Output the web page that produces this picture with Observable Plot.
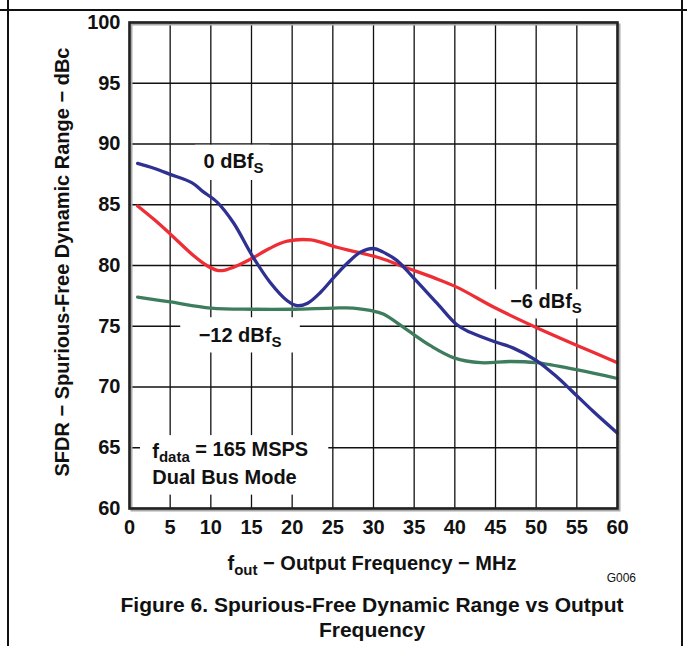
<!DOCTYPE html>
<html>
<head>
<meta charset="utf-8">
<script src="https://cdn.jsdelivr.net/npm/d3@7"></script>
<script src="https://cdn.jsdelivr.net/npm/@observablehq/plot@0.6"></script>
<style>
  html, body { margin: 0; padding: 0; background: #fff; }
  #page { position: relative; width: 687px; height: 646px; background: #fff; overflow: hidden;
          font-family: "Liberation Sans", Arial, Helvetica, sans-serif; color: #111; }
  .vline { position: absolute; top: 0; width: 2px; height: 646px; background: #111; z-index: 5; }
  .hline { position: absolute; left: 0; top: 9px; width: 687px; height: 2px; background: #111; z-index: 5; }
  #chart { position: absolute; left: 0; top: 0; z-index: 1; }
  .ttl { position: absolute; font-weight: bold; white-space: nowrap; z-index: 2; }
  #ytitle { left: 62px; top: 262px; font-size: 20px; transform: translate(-50%, -50%) rotate(-90deg); }
  #xtitle { left: 372px; top: 563px; font-size: 20px; transform: translate(-50%, -50%); }
  #xtitle sub { font-size: 15px; vertical-align: -5px; line-height: 0; }
  #gid { position: absolute; left: 636px; top: 578px; font-size: 12px; transform: translate(-100%, -50%); z-index: 2; }
  #caption { left: 372px; top: 592px; font-size: 21px; line-height: 25px; text-align: center; transform: translateX(-50%); }
</style>
</head>
<body>
<div id="page">
  <div id="chart"></div>
  <div id="ytitle" class="ttl">SFDR − Spurious-Free Dynamic Range − dBc</div>
  <div id="xtitle" class="ttl">f<sub>out</sub> − Output Frequency − MHz</div>
  <div id="gid">G006</div>
  <div id="caption" class="ttl">Figure 6. Spurious-Free Dynamic Range vs Output<br>Frequency</div>
  <div class="hline"></div>
  <div class="vline" style="left:7px"></div>
  <div class="vline" style="left:681px"></div>
</div>
<script>
// ---- data (MHz, dBc) ----
const xTicks = [0, 5, 10, 15, 20, 25, 30, 35, 40, 45, 50, 55, 60];
const yTicks = [60, 65, 70, 75, 80, 85, 90, 95, 100];

const dBfs0 = [
  [1, 88.4], [3, 88.0], [5, 87.5], [7.7, 86.8], [9, 86.1], [10.8, 85.2], [12.8, 83.5],
  [15.1, 80.8], [17.3, 78.6], [19.4, 77.1], [20.6, 76.7], [21.9, 76.9], [23.5, 77.8],
  [25.1, 79.0], [26.8, 80.2], [28.4, 81.1], [30, 81.4], [31.2, 81.1], [32.9, 80.4],
  [34.9, 79.0], [37.8, 76.9], [40.3, 75.1], [41.9, 74.5], [45, 73.7], [47.2, 73.2],
  [50, 72.2], [52.6, 70.8], [54.2, 69.8], [57, 68.0], [60, 66.2]
];
const dBfsMinus6 = [
  [1, 84.9], [3, 83.8], [5, 82.6], [7.9, 80.8], [9.5, 80.0], [10.8, 79.6], [11.6, 79.6],
  [13.3, 80.0], [15.1, 80.6], [17.2, 81.4], [19.4, 82.0], [22.3, 82.1], [25.5, 81.5],
  [28, 81.1], [30.9, 80.6], [33.7, 79.9], [37.4, 79.0], [40.3, 78.2], [45, 76.5],
  [50, 74.9], [55.1, 73.4], [60, 72.0]
];
const dBfsMinus12 = [
  [1, 77.4], [5, 77.0], [10, 76.5], [15.1, 76.4], [20.1, 76.4], [25.1, 76.5], [27.5, 76.5],
  [29.6, 76.3], [31.2, 76.0], [33.7, 74.9], [37, 73.4], [39.9, 72.4], [43.2, 72.0],
  [46.8, 72.1], [50, 72.0], [55.1, 71.4], [60, 70.7]
];

// annotation labels (data coordinates) and their white backing boxes
const labelText = ["0 dBf_S", "−6 dBf_S", "−12 dBf_S", "f_{data} = 165 MSPS", "Dual Bus Mode"];
const labelX = [9.1, 46.8, 8.5, 2.8, 2.8];
const labelY = [88.55, 77.0, 74.2, 64.7, 62.55];
const boxX1 = [8.1, 44.0, 6.3, 1.35];
const boxX2 = [17.3, 57.0, 21.0, 24.5];
const boxY1 = [87.0, 75.6, 72.8, 61.1];
const boxY2 = [89.9, 78.0, 75.7, 66.0];

const colors = { blue: "#2e3192", red: "#ee2d35", green: "#3e7c5e" };

const toRows = arr => arr.map(([f, v]) => ({ f, v }));
const labels = labelText.map((t, i) => ({ t, x: labelX[i], y: labelY[i] }));
const boxes = boxX1.map((_, i) => ({ x1: boxX1[i], x2: boxX2[i], y1: boxY1[i], y2: boxY2[i] }));

const chart = Plot.plot({
  width: 687,
  height: 545,
  marginLeft: 129,
  marginRight: 70,
  marginTop: 22,
  marginBottom: 37,
  style: {
    fontFamily: "'Liberation Sans', Arial, Helvetica, sans-serif",
    fontSize: "20px",
    fontWeight: "bold",
    color: "#111",
    background: "transparent",
    overflow: "visible"
  },
  x: { domain: [0, 60], ticks: xTicks, tickFormat: d => String(d), label: null, tickSize: 0, tickPadding: 11 },
  y: { domain: [60, 100], ticks: yTicks, tickFormat: d => String(d), label: null, tickSize: 0, tickPadding: 9 },
  marks: [
    Plot.ruleX(xTicks, { stroke: "#111", strokeWidth: 1.3 }),
    Plot.ruleY(yTicks, { stroke: "#111", strokeWidth: 1.3 }),
    Plot.rect(boxes, { x1: "x1", x2: "x2", y1: "y1", y2: "y2", fill: "white" }),
    Plot.line(toRows(dBfsMinus12), { x: "f", y: "v", stroke: colors.green, strokeWidth: 3.3, curve: "catmull-rom" }),
    Plot.line(toRows(dBfsMinus6), { x: "f", y: "v", stroke: colors.red, strokeWidth: 3.3, curve: "catmull-rom" }),
    Plot.line(toRows(dBfs0), { x: "f", y: "v", stroke: colors.blue, strokeWidth: 3.3, curve: "catmull-rom" }),
    Plot.frame({ stroke: "#aaa", strokeWidth: 2, dx: 2, dy: 2 }),
    Plot.frame({ stroke: "#222", strokeWidth: 2.6 }),
    Plot.text(labels, { x: "x", y: "y", text: "t", textAnchor: "start", fontSize: 20, fontWeight: "bold", fill: "#111" })
  ]
});

// turn "_X" / "_{xyz}" into subscripts
d3.select(chart).selectAll("text").each(function () {
  const s = this.textContent;
  if (!s.includes("_")) return;
  const el = d3.select(this);
  el.text(null);
  const re = /_\{([^}]*)\}|_(\S)/g;
  let last = 0, m, shifted = false;
  while ((m = re.exec(s)) !== null) {
    if (m.index > last) { el.append("tspan").attr("dy", shifted ? "-0.3em" : null).text(s.slice(last, m.index)); shifted = false; }
    el.append("tspan").attr("dy", "0.3em").attr("font-size", "75%").text(m[1] || m[2]);
    shifted = true;
    last = re.lastIndex;
  }
  if (last < s.length) el.append("tspan").attr("dy", shifted ? "-0.3em" : null).text(s.slice(last));
});

document.getElementById("chart").appendChild(chart);
</script>
</body>
</html>
